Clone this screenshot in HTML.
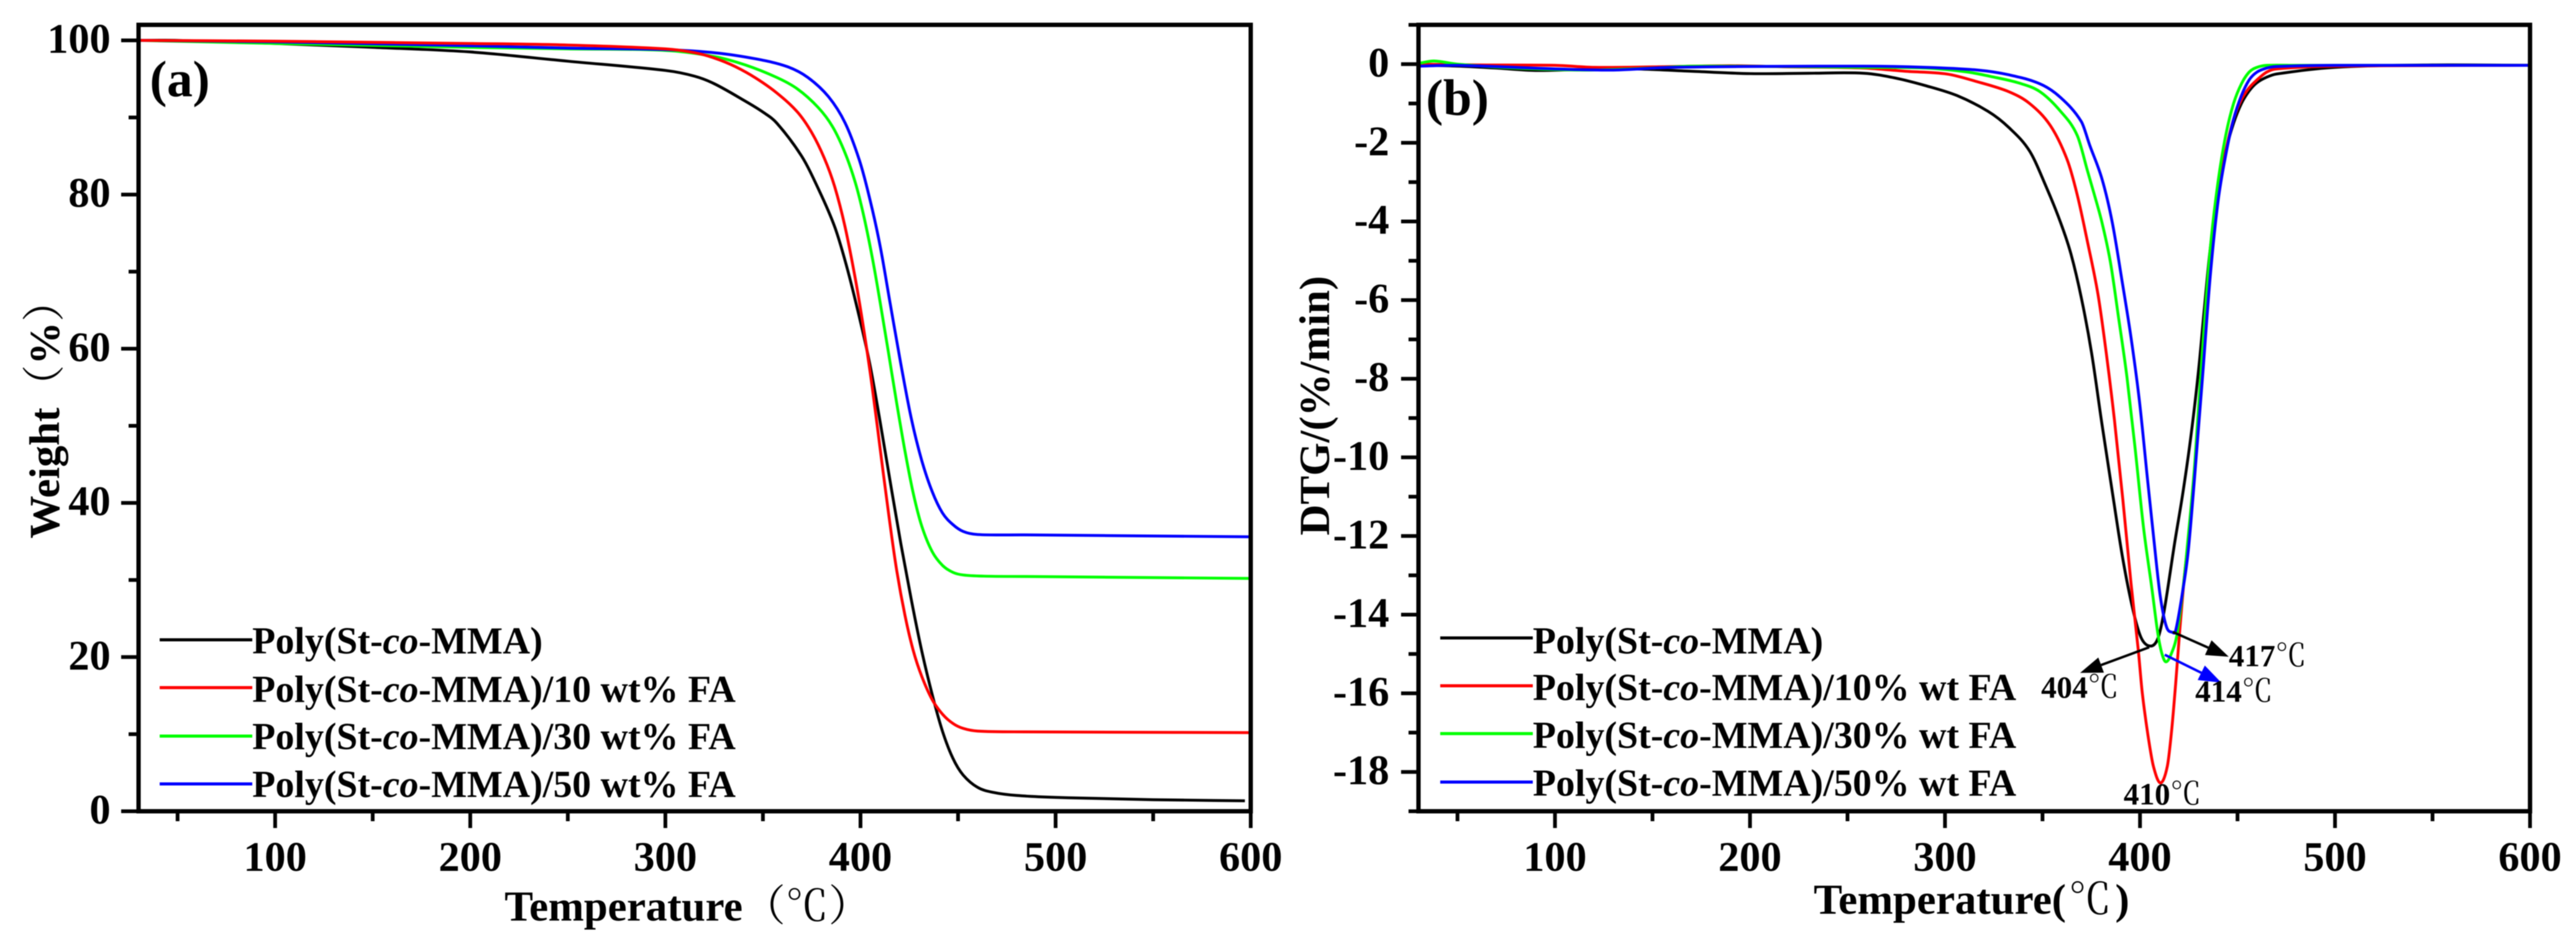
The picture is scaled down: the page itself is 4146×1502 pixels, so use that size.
<!DOCTYPE html>
<html lang="en">
<head>
<meta charset="utf-8">
<title>TGA and DTG curves of Poly(St-co-MMA)/FA composites</title>
<style>
html,body{margin:0;padding:0;background:#fff;width:4146px;height:1502px;overflow:hidden}
svg{display:block;filter:blur(.7px)}
text{font-family:"Liberation Serif","Noto Serif CJK SC",serif;font-weight:bold;fill:#000}
.cjk{font-family:"Noto Serif CJK SC","Liberation Serif",serif;font-weight:normal}
.legend{font-size:61px}
.title{font-size:69px}
.tick{font-size:68px}
.panel{font-size:83px}
.note{font-size:50px}
</style>
</head>
<body>
<svg xmlns="http://www.w3.org/2000/svg" width="4146" height="1502" viewBox="0 0 4146 1502">
  <rect width="4146" height="1502" fill="#fff"/>

  <g id="panelA">
    <g id="seriesA"></g>
    <g id="axesA"></g>
    <text class="panel" x="241" y="155">(a)</text>
    <text class="title" x="812" y="1482">Temperature<tspan class="cjk">（℃）</tspan></text>
    <text class="title" transform="translate(95 867) rotate(-90)" x="0" y="0">Weight<tspan class="cjk">（</tspan>%<tspan class="cjk">）</tspan></text>
    <g>
      <g>
        <line x1="257" x2="406" y1="1030" y2="1030" stroke="#000" stroke-width="5"/>
        <text class="legend" x="406" y="1052">Poly(St-<tspan font-style="italic">co</tspan>-MMA)</text>
      </g>
      <g>
        <line x1="257" x2="406" y1="1107" y2="1107" stroke="#f00" stroke-width="5"/>
        <text class="legend" x="406" y="1130">Poly(St-<tspan font-style="italic">co</tspan>-MMA)/10 wt% FA</text>
      </g>
      <g>
        <line x1="257" x2="406" y1="1185" y2="1185" stroke="#0f0" stroke-width="5"/>
        <text class="legend" x="406" y="1206">Poly(St-<tspan font-style="italic">co</tspan>-MMA)/30 wt% FA</text>
      </g>
      <g>
        <line x1="257" x2="406" y1="1262" y2="1262" stroke="#00f" stroke-width="5"/>
        <text class="legend" x="406" y="1283">Poly(St-<tspan font-style="italic">co</tspan>-MMA)/50 wt% FA</text>
      </g>
    </g>
  </g>

  <g id="panelB">
    <g id="seriesB"></g>
    <g id="axesB"></g>
    <g id="notesB"></g>
    <text class="panel" x="2295" y="185">(b)</text>
    <text class="title" x="2919" y="1471">Temperature(<tspan class="cjk" dx="4">℃</tspan><tspan dx="6">)</tspan></text>
    <text class="title" transform="translate(2139 862) rotate(-90)" x="0" y="0">DTG/(%/min)</text>
    <g>
      <g>
        <line x1="2318" x2="2467" y1="1027" y2="1027" stroke="#000" stroke-width="5"/>
        <text class="legend" x="2467" y="1052">Poly(St-<tspan font-style="italic">co</tspan>-MMA)</text>
      </g>
      <g>
        <line x1="2318" x2="2467" y1="1104" y2="1104" stroke="#f00" stroke-width="5"/>
        <text class="legend" x="2467" y="1127">Poly(St-<tspan font-style="italic">co</tspan>-MMA)/10% wt FA</text>
      </g>
      <g>
        <line x1="2318" x2="2467" y1="1181" y2="1181" stroke="#0f0" stroke-width="5"/>
        <text class="legend" x="2467" y="1204">Poly(St-<tspan font-style="italic">co</tspan>-MMA)/30% wt FA</text>
      </g>
      <g>
        <line x1="2318" x2="2467" y1="1259" y2="1259" stroke="#00f" stroke-width="5"/>
        <text class="legend" x="2467" y="1281">Poly(St-<tspan font-style="italic">co</tspan>-MMA)/50% wt FA</text>
      </g>
    </g>
  </g>
</svg>

<script>
// ---- Tick values ----
const xMajorTicks = [100, 200, 300, 400, 500, 600];
const xMinorTicks = [50, 150, 250, 350, 450, 550];
const yMajorTicksA = [0, 20, 40, 60, 80, 100];
const yMinorTicksA = [10, 30, 50, 70, 90];
const yMajorTicksB = [0, -2, -4, -6, -8, -10, -12, -14, -16, -18];
const yMinorTicksB = [1, -1, -3, -5, -7, -9, -11, -13, -15, -17, -19];

// ---- TGA (a): temperature / weight % ----
const tgaNeatT = [30,50,100,150,200,250,300,315,325.2,341.1,350,357,369.8,378.3,386.8,393.1,399.5,404.8,410.1,415.4,420.7,426,431.4,436.7,442,447.3,452.6,460,468,480,500,550,597];
const tgaNeatW = [100,100,99.6,99.1,98.5,97.3,96.1,95.35,94.36,92.1,90.7,89.3,85,80.8,75.8,70.5,64,58,50.5,42.5,34.7,27.5,20.8,15.2,10.4,6.9,4.7,3.1,2.45,2.05,1.8,1.5,1.35];
const tga10T = [30,100,200,250,300,315,325.2,335.8,346.4,357,367.7,375.1,381.5,386.8,392.1,397.4,401.6,405.9,410.1,414.4,418.6,422.9,427.1,431.4,436.7,442,447.3,452.6,460,484.4,600];
const tga10W = [100,99.9,99.6,99.4,98.9,98.4,97.7,96.6,95.1,93.2,90.7,88,84.7,81,75.8,69,62.6,55.2,47,38.6,31.2,25.3,20.8,17.5,14.5,12.6,11.4,10.75,10.4,10.3,10.2];
const tga30T = [30,100,200,250,300,325.2,341.1,357,367.7,378.3,385.7,392.1,397.4,401.6,405.9,410.1,414.4,418.6,422.9,427.1,431.4,436.7,442,447.3,452.6,463.2,484.4,600];
const tga30W = [100,99.6,99.1,98.9,98.7,97.9,96.8,95.2,93.7,91.3,88.8,85.4,81.5,77.3,72,66,59.4,52.9,46.6,41.2,37,33.7,31.9,31,30.65,30.5,30.45,30.2];
const tga50T = [30,100,200,250,300,325.2,346.4,362.4,373,383.6,392.1,399.5,404.8,410.1,415.4,420.7,426,431.4,436.7,442,447.3,452.6,460,484.4,600];
const tga50W = [100,99.8,99.3,99,98.8,98.4,97.6,96.6,95.2,92.7,89.3,84.4,79.4,73.3,65.6,58,51,45.5,41.5,38.7,37.2,36.3,35.9,35.85,35.6];

// ---- DTG (b): temperature / rate ----
const dtgNeatT = [30,50,70,90,110,140,170,200,230,258.4,274.3,290.3,306.2,322.1,332.7,343.4,351.9,359.3,364.6,369.9,375.2,380.5,385.8,391.2,396.5,400.7,405.5,409.2,412.4,417.7,422,426,430,433,436,440,444,448,452,456,460,465,470,500,550,600];
const dtgNeatR = [-0.02,-0.05,-0.1,-0.16,-0.14,-0.12,-0.18,-0.24,-0.23,-0.23,-0.35,-0.55,-0.8,-1.2,-1.61,-2.21,-3.12,-4.03,-4.83,-5.94,-7.35,-9.16,-10.88,-12.59,-13.9,-14.6,-14.8,-14.6,-13.9,-12.2,-10.9,-9.5,-7.8,-6.2,-4.7,-3.2,-2.2,-1.5,-1,-0.68,-0.47,-0.33,-0.25,-0.08,-0.02,-0.03];
const dtg10T = [30,60,100,120,150,190,220,258.4,279.6,300.9,316.8,332.7,343.4,354,362.5,367.8,373.1,378.4,382.7,386.9,391.2,395.4,399.1,401.2,404.1,406.9,410.5,414,416.2,418.3,420.5,422.6,424.7,428,432,436,440,444,448,452,456,460,465,470,500,600];
const dtg10R = [0,-0.02,-0.03,-0.08,-0.07,-0.04,-0.07,-0.1,-0.18,-0.25,-0.45,-0.7,-1,-1.56,-2.41,-3.32,-4.53,-5.84,-7.35,-9.06,-11.08,-13.2,-14.9,-16,-17.07,-17.86,-18.28,-17.86,-16.96,-15.75,-14.33,-13.1,-12.1,-10.3,-7.7,-5,-3.3,-2.2,-1.4,-0.9,-0.6,-0.4,-0.2,-0.12,-0.05,-0.03];
const dtg30T = [30,38,50,80,115,150,170,258.4,290.3,311.5,324.2,338,348.7,359.3,367.8,373.1,376.3,380.5,384.8,389,393.3,397.5,401.8,406,409.2,411.3,413.3,416,419,421.9,424,428,432,436,440,444,448,452,456,460,465,480,600];
const dtg30R = [0.02,0.08,0,-0.1,-0.15,-0.1,-0.05,-0.08,-0.1,-0.2,-0.32,-0.48,-0.7,-1.2,-1.81,-2.72,-3.27,-4.03,-5.03,-6.45,-7.96,-9.77,-11.78,-13.3,-14.5,-15,-15.2,-15,-14.5,-13.4,-12.4,-10.2,-7.3,-4.7,-3,-1.8,-1,-0.5,-0.2,-0.08,-0.03,-0.03,-0.03];
const dtg50T = [30,50,100,130,160,258.4,290.3,316.8,332.7,348.7,359.3,369.9,374.2,380.5,385.8,391.2,395.4,399.7,403.9,407.1,410.3,413.5,416.6,418.3,421.9,424.7,428,432,436,440,444,448,452,456,460,465,470,500,600];
const dtg50R = [-0.05,-0.03,-0.12,-0.15,-0.08,-0.05,-0.08,-0.15,-0.27,-0.5,-0.85,-1.46,-2.06,-2.92,-4.03,-5.64,-6.95,-8.56,-10.58,-12.09,-13.5,-14.3,-14.45,-14.4,-13.4,-12.4,-10.5,-8,-5.4,-3.5,-2.3,-1.4,-0.8,-0.4,-0.2,-0.1,-0.06,-0.03,-0.03];

// ---- DTG peak annotations ----
const peakLabels = ['417', '404', '414', '410'];
const peakLabelT = [445.5, 349.3, 428.3, 391.6];
const peakLabelR = [-15.31, -16.11, -16.21, -18.83];
const arrowColors = ['#000', '#000', '#00f'];
const arrowFromT = [416.8, 404.7, 412.7];
const arrowFromR = [-14.44, -14.83, -15.02];
const arrowToT = [445.5, 369.3, 441.7];
const arrowToR = [-15.07, -15.48, -15.73];

const SVGNS = 'http://www.w3.org/2000/svg';

function mk(tag, attrs, parent) {
  const el = document.createElementNS(SVGNS, tag);
  for (const k in attrs) el.setAttribute(k, attrs[k]);
  parent.appendChild(el);
  return el;
}

// Axis scales
function linear(d0, d1, r0, r1) {
  return function (v) { return r0 + (v - d0) * (r1 - r0) / (d1 - d0); };
}
const xA = linear(30, 600, 223, 2013);
const yA = linear(0, 102, 1306, 40.2);
const xB = linear(30, 600, 2283, 4072);
const yB = linear(-19, 1, 1306, 40);

// Smooth path through data (finite-difference cubic tangents)
function curvePath(ts, vs, sx, sy) {
  const px = ts.map(sx);
  const py = vs.map(sy);
  const n = px.length;
  const slope = [];
  for (let i = 0; i < n; i++) {
    const a = Math.max(0, i - 1);
    const b = Math.min(n - 1, i + 1);
    slope.push((py[b] - py[a]) / (px[b] - px[a]));
  }
  let d = 'M' + px[0].toFixed(1) + ' ' + py[0].toFixed(1);
  for (let i = 0; i < n - 1; i++) {
    const h = (px[i + 1] - px[i]) / 3;
    d += 'C' + (px[i] + h).toFixed(1) + ' ' + (py[i] + slope[i] * h).toFixed(1) +
      ' ' + (px[i + 1] - h).toFixed(1) + ' ' + (py[i + 1] - slope[i + 1] * h).toFixed(1) +
      ' ' + px[i + 1].toFixed(1) + ' ' + py[i + 1].toFixed(1);
  }
  return d;
}

function drawSeries(parent, ts, vs, sx, sy, color, name) {
  const p = mk('path', { d: curvePath(ts, vs, sx, sy), fill: 'none', stroke: color, 'stroke-width': 4.6, 'stroke-linejoin': 'round' }, parent);
  
  
}

const seriesA = document.getElementById('seriesA');
drawSeries(seriesA, tgaNeatT, tgaNeatW, xA, yA, '#000', 'tga-curve-neat');
drawSeries(seriesA, tga30T, tga30W, xA, yA, '#0f0', 'tga-curve-30');
drawSeries(seriesA, tga50T, tga50W, xA, yA, '#00f', 'tga-curve-50');
drawSeries(seriesA, tga10T, tga10W, xA, yA, '#f00', 'tga-curve-10');

const seriesB = document.getElementById('seriesB');
drawSeries(seriesB, dtgNeatT, dtgNeatR, xB, yB, '#000', 'dtg-curve-neat');
drawSeries(seriesB, dtg10T, dtg10R, xB, yB, '#f00', 'dtg-curve-10');
drawSeries(seriesB, dtg30T, dtg30R, xB, yB, '#0f0', 'dtg-curve-30');
drawSeries(seriesB, dtg50T, dtg50R, xB, yB, '#00f', 'dtg-curve-50');

function drawAxes(parent, sx, sy, yMajor, yMinor, labelRight, suffix) {
  const L = sx(30), R = sx(600), T = 40, B = 1306;
  const frame = mk('rect', { x: L, y: T, width: R - L, height: B - T, fill: 'none', stroke: '#000', 'stroke-width': 7 }, parent);
  
  

  xMajorTicks.forEach(function (v) {
    const tick = mk('line', { x1: sx(v), x2: sx(v), y1: B, y2: 1333, stroke: '#000', 'stroke-width': 6 }, parent);
    
    
    const label = mk('text', { class: 'tick', x: sx(v), y: 1402, 'text-anchor': 'middle' }, parent);
    label.textContent = String(v);
    
    
  });
  xMinorTicks.forEach(function (v) {
    const tick = mk('line', { x1: sx(v), x2: sx(v), y1: B, y2: 1322, stroke: '#000', 'stroke-width': 6 }, parent);
    
    
  });
  yMajor.forEach(function (v) {
    const tick = mk('line', { x1: L - 28, x2: L, y1: sy(v), y2: sy(v), stroke: '#000', 'stroke-width': 6 }, parent);
    
    
    const label = mk('text', { class: 'tick', x: labelRight, y: sy(v) + 20, 'text-anchor': 'end' }, parent);
    label.textContent = String(v);
    
    
  });
  yMinor.forEach(function (v) {
    const tick = mk('line', { x1: L - 16, x2: L, y1: sy(v), y2: sy(v), stroke: '#000', 'stroke-width': 6 }, parent);
    
    
  });
}

drawAxes(document.getElementById('axesA'), xA, yA, yMajorTicksA, yMinorTicksA, 178, 'a');
drawAxes(document.getElementById('axesB'), xB, yB, yMajorTicksB, yMinorTicksB, 2236, 'b');

// Peak annotations: arrows and temperature labels
const notes = document.getElementById('notesB');
arrowColors.forEach(function (color, i) {
  const x1 = xB(arrowFromT[i]), y1 = yB(arrowFromR[i]);
  const x2 = xB(arrowToT[i]), y2 = yB(arrowToR[i]);
  const len = Math.hypot(x2 - x1, y2 - y1);
  const ux = (x2 - x1) / len, uy = (y2 - y1) / len;
  const hx = x2 - ux * 36, hy = y2 - uy * 36;
  const shaft = mk('line', { x1: x1, y1: y1, x2: hx, y2: hy, stroke: color, 'stroke-width': 4 }, notes);
  
  
  const pts = [x2, y2, hx - uy * 13, hy + ux * 13, hx + uy * 13, hy - ux * 13].map(function (n) { return n.toFixed(1); }).join(' ');
  const head = mk('polygon', { points: pts, fill: color }, notes);
  
  
});
peakLabels.forEach(function (txt, i) {
  const label = mk('text', { class: 'note', x: xB(peakLabelT[i]), y: yB(peakLabelR[i]) }, notes);
  
  
  label.appendChild(document.createTextNode(txt));
  const unit = mk('tspan', { class: 'cjk' }, label);
  unit.textContent = '℃';
});
</script>
</body>
</html>
